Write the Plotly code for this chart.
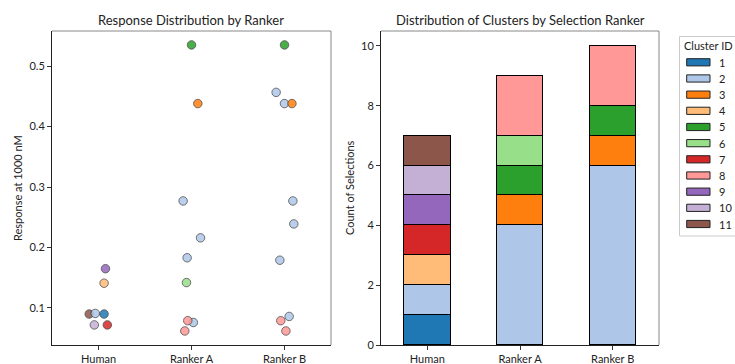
import plotly.graph_objects as go
from plotly.subplots import make_subplots

# ---- data -------------------------------------------------------------
rankers = ["Human", "Ranker A", "Ranker B"]
cluster_ids = [1, 2, 3, 4, 5, 6, 7, 8, 9, 10, 11]
cluster_colors = ["#1f77b4", "#aec7e8", "#ff7f0e", "#ffbb78", "#2ca02c", "#98df8a",
                  "#d62728", "#ff9896", "#9467bd", "#c5b0d5", "#8c564b"]

# selected compounds per ranker: cluster id, response at 1000 nM, strip jitter
human_cluster = [11, 2, 1, 10, 7, 4, 9]
human_response = [0.090, 0.091, 0.090, 0.072, 0.072, 0.141, 0.165]
human_jitter = [-0.10, -0.035, 0.06, -0.045, 0.095, 0.06, 0.075]

ranker_a_cluster = [5, 3, 2, 2, 2, 6, 2, 8, 8]
ranker_a_response = [0.535, 0.438, 0.277, 0.216, 0.183, 0.142, 0.076, 0.079, 0.062]
ranker_a_jitter = [0.0, 0.068, -0.09, 0.097, -0.047, -0.054, 0.02, -0.04, -0.072]

ranker_b_cluster = [5, 2, 2, 3, 2, 2, 2, 2, 8, 8]
ranker_b_response = [0.535, 0.4565, 0.438, 0.438, 0.277, 0.239, 0.179, 0.086, 0.079, 0.062]
ranker_b_jitter = [0.0, -0.09, 0.0, 0.08, 0.09, 0.1, -0.05, 0.05, -0.04, 0.015]

selections = [
    (human_cluster, human_response, human_jitter),
    (ranker_a_cluster, ranker_a_response, ranker_a_jitter),
    (ranker_b_cluster, ranker_b_response, ranker_b_jitter),
]

# ---- figure geometry (pixels) -----------------------------------------
W, H = 735, 364
FONT = "Lato, 'Open Sans', sans-serif"
TEXT = "#222222"


def px(x):
    return x / W


def py(y):
    return 1 - y / H


fig = make_subplots(rows=1, cols=2)
fig.update_xaxes(domain=[px(52), px(331)], row=1, col=1)
fig.update_xaxes(domain=[px(381), px(659)], row=1, col=2)
fig.update_yaxes(domain=[py(345), py(31)])

color_of = dict(zip(cluster_ids, cluster_colors))

# ---- left: strip plot of responses ------------------------------------
for i, (clusters, resp, jit) in enumerate(selections):
    fig.add_trace(go.Scatter(
        x=[i + j for j in jit], y=resp, mode="markers",
        marker=dict(size=8.5, color=[color_of[c] for c in clusters], opacity=0.85,
                    line=dict(color="#333333", width=0.8)),
        showlegend=False, hoverinfo="skip",
    ), row=1, col=1)

# ---- right: stacked counts by cluster ---------------------------------
for cid, col in zip(cluster_ids, cluster_colors):
    counts = [cl.count(cid) for cl, _, _ in selections]
    fig.add_trace(go.Bar(
        x=list(range(len(rankers))), y=[c if c else None for c in counts], width=0.5,
        marker=dict(color=col, line=dict(color="#000000", width=1)),
        name=str(cid), showlegend=False, hoverinfo="skip",
    ), row=1, col=2)

axis_common = dict(showline=True, linecolor="#222222", linewidth=1, ticks="outside",
                   ticklen=4, tickcolor="#333333", tickwidth=1, showgrid=False,
                   zeroline=False, automargin=False,
                   tickfont=dict(family=FONT, size=11, color=TEXT))
fig.update_xaxes(range=[-0.5, 2.5], tickvals=[0, 1, 2], ticktext=rankers, **axis_common)
fig.update_yaxes(range=[0.0388, 0.558], tickvals=[0.1, 0.2, 0.3, 0.4, 0.5],
                 row=1, col=1, **axis_common)
fig.update_yaxes(range=[0, 10.5], tickvals=[0, 2, 4, 6, 8, 10], row=1, col=2, **axis_common)

# top/right spines in lighter grey
shapes = []
for xr, yr in [("x", "y"), ("x2", "y2")]:
    shapes.append(dict(type="line", xref=f"{xr} domain", yref=f"{yr} domain",
                       x0=0, x1=1, y0=1, y1=1, line=dict(color="#888888", width=1)))
    shapes.append(dict(type="line", xref=f"{xr} domain", yref=f"{yr} domain",
                       x0=1, x1=1, y0=0, y1=1, line=dict(color="#888888", width=1)))

annotations = [
    dict(text="Response Distribution by Ranker", x=px(191.5), y=py(19.5), xref="paper",
         yref="paper", showarrow=False, xanchor="center", yanchor="middle",
         font=dict(family=FONT, size=13, color=TEXT)),
    dict(text="Distribution of Clusters by Selection Ranker", x=px(520), y=py(19.5),
         xref="paper", yref="paper", showarrow=False, xanchor="center", yanchor="middle",
         font=dict(family=FONT, size=13, color=TEXT)),
    dict(text="Response at 1000 nM", x=px(17), y=py(188), xref="paper", yref="paper",
         showarrow=False, textangle=-90, xanchor="center", yanchor="middle",
         font=dict(family=FONT, size=11, color=TEXT)),
    dict(text="Count of Selections", x=px(349), y=py(188), xref="paper", yref="paper",
         showarrow=False, textangle=-90, xanchor="center", yanchor="middle",
         font=dict(family=FONT, size=11, color=TEXT)),
]

# legend box
shapes.append(dict(type="rect", xref="paper", yref="paper", x0=px(679.5), x1=px(745),
                   y0=py(236), y1=py(36.5), line=dict(color="#cccccc", width=1),
                   fillcolor="rgba(255,255,255,0.8)", layer="above"))
annotations.append(dict(text="Cluster ID", x=px(682), y=py(45.7), xref="paper", yref="paper",
                        showarrow=False, xanchor="left", yanchor="middle",
                        font=dict(family=FONT, size=11, color=TEXT)))
for k, (cid, col) in enumerate(zip(cluster_ids, cluster_colors)):
    yc = 62.3 + 16.17 * k
    shapes.append(dict(type="rect", xref="paper", yref="paper", x0=px(686.7), x1=px(710),
                       y0=py(yc + 3.6), y1=py(yc - 3.6), fillcolor=col,
                       line=dict(color="#222222", width=1), layer="above"))
    annotations.append(dict(text=str(cid), x=px(717), y=py(yc), xref="paper", yref="paper",
                            showarrow=False, xanchor="left", yanchor="middle",
                            font=dict(family=FONT, size=11, color=TEXT)))

fig.update_layout(
    width=W, height=H, margin=dict(l=0, r=0, t=0, b=0),
    paper_bgcolor="white", plot_bgcolor="white",
    barmode="stack", bargap=0, showlegend=False,
    font=dict(family=FONT, size=11, color=TEXT),
    shapes=shapes, annotations=annotations,
)

fig.write_html("out.html")
